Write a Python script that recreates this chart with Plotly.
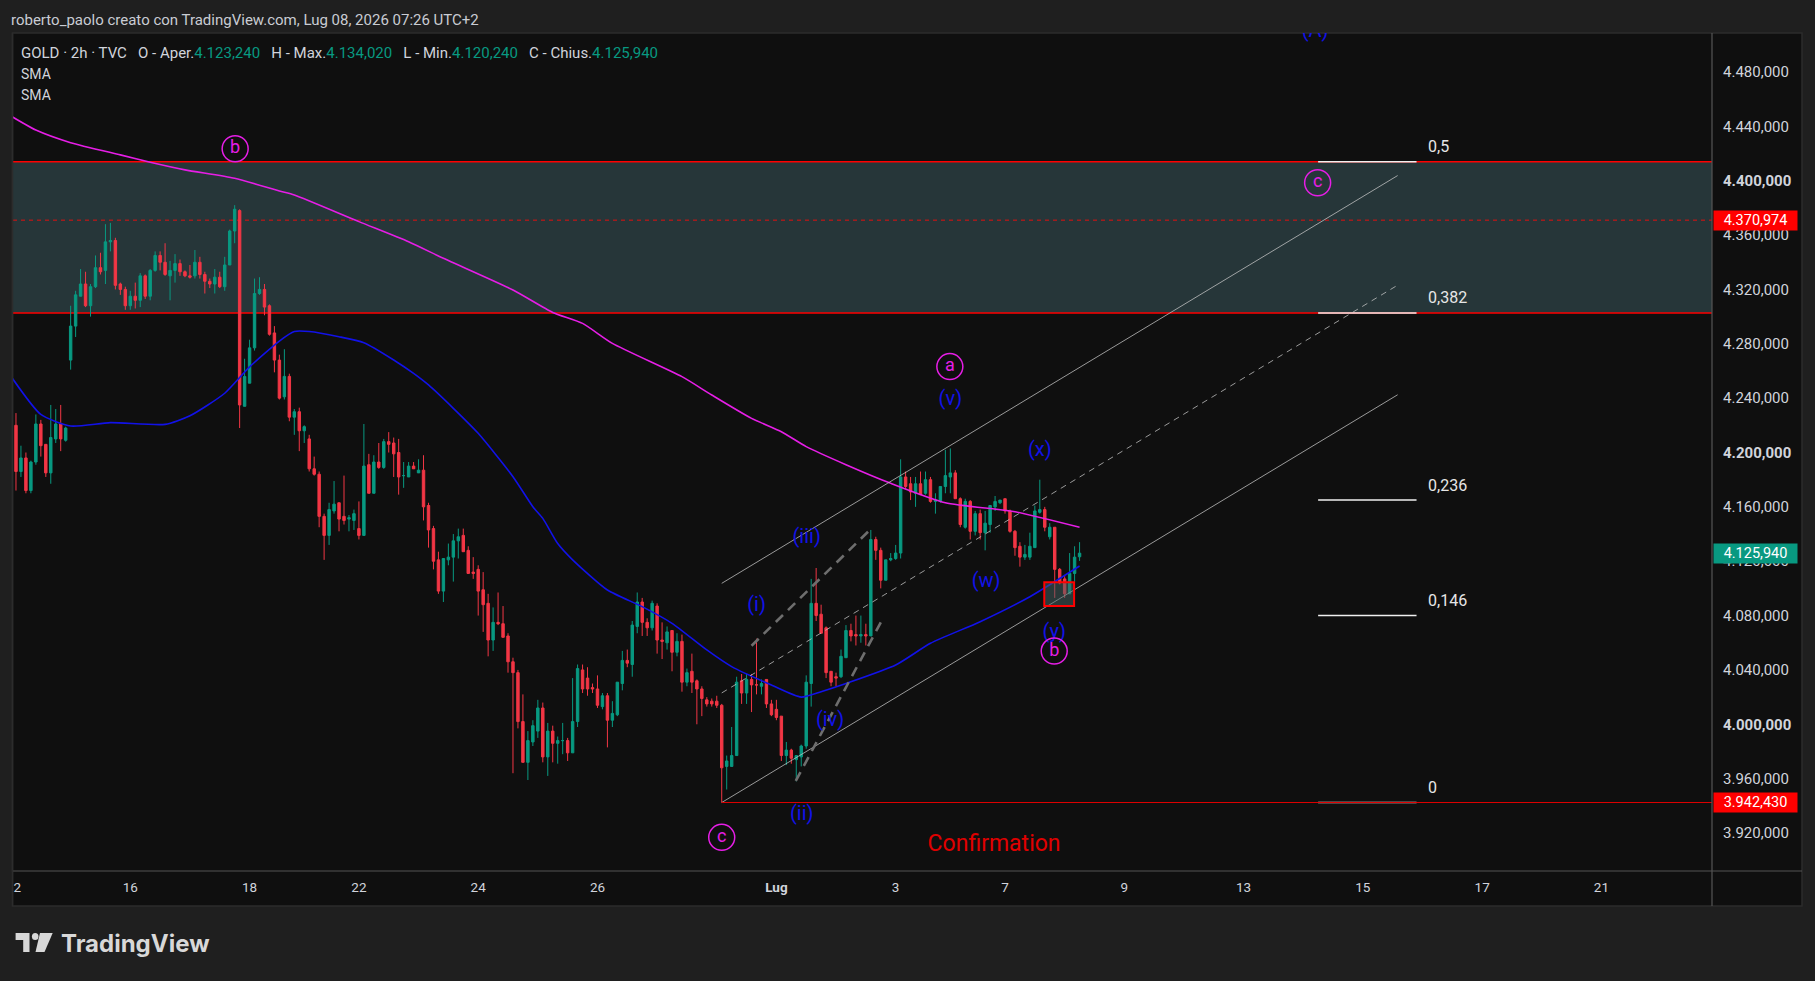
import plotly.graph_objects as go

# ---- 2h candles, GOLD (TVC), bar 0 = first bar on screen ----
opens = [4208, 4220, 4186, 4196, 4172, 4193, 4221, 4206, 4185, 4210, 4221, 4209,
         4268, 4293, 4315, 4324, 4308, 4322, 4336, 4334, 4355, 4356, 4324, 4320,
         4308, 4315, 4312, 4330, 4315, 4334, 4345, 4340, 4330, 4334, 4339, 4333,
         4330, 4330, 4340, 4331, 4326, 4324, 4329, 4322, 4338, 4363, 4378, 4234,
         4251, 4277, 4317, 4320, 4308, 4288, 4268, 4241, 4256, 4226, 4230, 4216,
         4210, 4188, 4184, 4153, 4139, 4157, 4163, 4153, 4151, 4150, 4144, 4139,
         4191, 4170, 4193, 4189, 4208, 4207, 4200, 4183, 4182, 4190, 4185, 4187,
         4161, 4144, 4121, 4098, 4121, 4123, 4135, 4139, 4128, 4112, 4114, 4099,
         4089, 4062, 4075, 4074, 4065, 4046, 4038, 4002, 3972, 3987, 3995, 4012,
         3976, 3995, 3986, 3988, 3988, 3979, 4002, 4040, 4034, 4027, 4026, 4013,
         4021, 4003, 4007, 4030, 4047, 4044, 4072, 4090, 4075, 4071, 4087, 4062,
         4060, 4069, 4053, 4061, 4031, 4039, 4032, 4026, 4018, 4017, 4017, 4014,
         3969, 3969, 3977, 4032, 4023, 4033, 4029, 4028, 4033, 4015, 4011, 4006,
         3977, 3981, 3974, 3976, 3984, 4030, 4089, 4081, 4071, 4039, 4035, 4035,
         4049, 4069, 4066, 4065, 4066, 4065, 4136, 4128, 4106, 4121, 4122, 4126,
         4182, 4177, 4170, 4177, 4170, 4180, 4164, 4164, 4175, 4182, 4185, 4166,
         4145, 4164, 4142, 4155, 4141, 4147, 4160, 4163, 4166, 4157, 4142, 4131,
         4123, 4123, 4130, 4156, 4158, 4138, 4145, 4114, 4107, 4096, 4111, 4123.24]
highs = [4221, 4229, 4205, 4200, 4194, 4228, 4224, 4206, 4235, 4232, 4235, 4219,
         4308, 4319, 4335, 4333, 4324, 4345, 4347, 4368, 4369, 4358, 4325, 4322,
         4319, 4325, 4332, 4331, 4335, 4348, 4348, 4354, 4341, 4346, 4342, 4334,
         4338, 4349, 4344, 4333, 4328, 4335, 4333, 4344, 4364, 4382, 4379, 4269,
         4283, 4328, 4329, 4324, 4309, 4293, 4272, 4276, 4258, 4232, 4233, 4220,
         4213, 4197, 4186, 4155, 4163, 4179, 4163, 4183, 4154, 4158, 4164, 4221,
         4199, 4198, 4207, 4210, 4215, 4211, 4210, 4193, 4193, 4193, 4195, 4198,
         4163, 4146, 4127, 4122, 4133, 4140, 4144, 4144, 4131, 4123, 4117, 4112,
         4096, 4086, 4097, 4087, 4067, 4049, 4040, 4022, 3995, 4003, 4018, 4016,
         4001, 3999, 3991, 4001, 3990, 4034, 4044, 4044, 4042, 4030, 4036, 4023,
         4023, 4017, 4031, 4054, 4055, 4076, 4097, 4093, 4078, 4091, 4089, 4075,
         4072, 4069, 4067, 4066, 4041, 4052, 4033, 4028, 4020, 4019, 4021, 4015,
         3977, 3998, 4035, 4037, 4037, 4037, 4063, 4033, 4033, 4018, 4018, 4006,
         3987, 3982, 3977, 3985, 4036, 4107, 4115, 4088, 4072, 4039, 4038, 4055,
         4073, 4074, 4080, 4080, 4074, 4143, 4138, 4130, 4121, 4126, 4132, 4195,
         4186, 4182, 4182, 4186, 4186, 4182, 4170, 4175, 4202, 4203, 4187, 4167,
         4166, 4165, 4157, 4158, 4157, 4161, 4168, 4165, 4166, 4158, 4143, 4134,
         4132, 4141, 4161, 4180, 4160, 4148, 4145, 4115, 4109, 4126, 4131, 4134.02]
lows = [4204, 4172, 4182, 4170, 4170, 4191, 4197, 4182, 4177, 4207, 4201, 4208,
        4261, 4285, 4315, 4307, 4300, 4321, 4331, 4324, 4348, 4320, 4316, 4305,
        4305, 4306, 4307, 4313, 4312, 4333, 4334, 4330, 4312, 4325, 4330, 4329,
        4328, 4328, 4328, 4317, 4321, 4317, 4321, 4319, 4338, 4354, 4218, 4234,
        4251, 4275, 4316, 4301, 4286, 4259, 4239, 4239, 4223, 4213, 4201, 4207,
        4186, 4183, 4145, 4121, 4132, 4155, 4142, 4147, 4142, 4143, 4136, 4139,
        4170, 4170, 4188, 4188, 4200, 4182, 4169, 4174, 4182, 4188, 4185, 4150,
        4130, 4114, 4096, 4090, 4117, 4105, 4122, 4127, 4111, 4107, 4080, 4068,
        4050, 4054, 4073, 4064, 4038, 3964, 3997, 3972, 3959, 3984, 3990, 3972,
        3962, 3972, 3971, 3978, 3973, 3979, 3998, 4023, 4021, 4023, 4012, 4011,
        3983, 3998, 4006, 4025, 4042, 4035, 4067, 4065, 4065, 4069, 4052, 4048,
        4055, 4039, 4050, 4024, 4028, 4023, 4000, 4006, 4013, 4013, 4012, 3942.43,
        3952, 3969, 3977, 4015, 4015, 4009, 4022, 4022, 4012, 4006, 4003, 3973,
        3970, 3971, 3958, 3969, 3982, 4013, 4076, 4067, 4034, 4028, 4028, 4034,
        4049, 4061, 4058, 4060, 4058, 4065, 4121, 4100, 4106, 4120, 4121, 4122,
        4173, 4165, 4160, 4169, 4169, 4163, 4155, 4163, 4170, 4170, 4166, 4145,
        4144, 4136, 4139, 4136, 4128, 4141, 4157, 4162, 4155, 4141, 4124, 4116,
        4121, 4121, 4130, 4155, 4142, 4136, 4093, 4103, 4093, 4096, 4105, 4120.24]
closes = [4219, 4186, 4196, 4172, 4193, 4221, 4205, 4185, 4211, 4221, 4210, 4218,
          4293, 4316, 4324, 4308, 4322, 4336, 4333, 4355, 4356, 4323, 4320, 4308,
          4315, 4312, 4330, 4315, 4334, 4345, 4340, 4331, 4334, 4339, 4333, 4330,
          4329, 4340, 4331, 4326, 4324, 4329, 4322, 4338, 4363, 4379, 4235, 4256,
          4277, 4317, 4320, 4307, 4287, 4268, 4240, 4256, 4226, 4230, 4216, 4219,
          4188, 4184, 4153, 4139, 4158, 4162, 4151, 4150, 4152, 4155, 4139, 4190,
          4170, 4193, 4189, 4208, 4206, 4199, 4182, 4183, 4190, 4188, 4187, 4160,
          4143, 4120, 4098, 4122, 4123, 4135, 4138, 4127, 4111, 4111, 4098, 4088,
          4062, 4075, 4074, 4064, 4046, 4038, 4002, 3972, 3988, 3999, 4012, 3976,
          3995, 3986, 3988, 3988, 3979, 4002, 4041, 4026, 4026, 4026, 4014, 4021,
          4003, 4008, 4031, 4047, 4045, 4073, 4090, 4075, 4071, 4089, 4062, 4061,
          4068, 4053, 4061, 4031, 4038, 4031, 4026, 4019, 4015, 4015, 4014, 3968,
          3973, 3977, 4031, 4023, 4033, 4029, 4029, 4030, 4015, 4007, 4005, 3977,
          3981, 3975, 3977, 3984, 4031, 4089, 4080, 4067, 4038, 4031, 4034, 4050,
          4069, 4065, 4065, 4066, 4065, 4136, 4128, 4106, 4121, 4122, 4126, 4182,
          4175, 4171, 4177, 4169, 4180, 4164, 4165, 4175, 4183, 4185, 4166, 4147,
          4164, 4142, 4155, 4141, 4148, 4161, 4164, 4165, 4157, 4142, 4130, 4123,
          4125, 4131, 4157, 4158, 4145, 4145, 4114, 4104, 4096, 4111, 4123, 4125.94]

# ---- moving averages (bar index, price) ----
sma_slow_x = [0, 5, 12, 22, 28, 35, 45, 54, 57, 70, 80, 87, 101, 109, 115, 121, 135, 141,
              149, 155, 160, 168, 177, 188, 202, 215]
sma_slow_y = [4447.6, 4437.3, 4428, 4419, 4413.6, 4408, 4401.8, 4392.4, 4389.5, 4369.9,
              4355.1, 4342.9, 4319.6, 4303.1, 4295, 4280.3, 4255.8, 4242.3, 4225.1, 4215.3,
              4204.3, 4191, 4177.3, 4163, 4156.4, 4145]
sma_fast_x = [0, 6, 12, 20, 31, 36, 43, 48, 54, 57, 60, 66, 71, 77, 81, 84, 89, 94, 101, 105,
              107, 110, 113, 120, 127, 133, 140, 145, 153, 159, 163, 168, 178, 185, 195, 205, 215]
sma_fast_y = [4256, 4228, 4219.5, 4222, 4220.7, 4227, 4243.6, 4263, 4282, 4289, 4289, 4285.2,
              4280.8, 4268.1, 4258.2, 4249.7, 4232.5, 4214.1, 4182.2, 4160.1, 4151.5, 4133,
              4121, 4098.8, 4086.6, 4074.3, 4054.7, 4042.4, 4028.9, 4020, 4024, 4030, 4043.6,
              4059.6, 4075.5, 4093.9, 4116.5]

# ---- axes ----
date_pos = [0.5, 24, 48, 70, 94, 118, 154, 178, 200, 224, 248, 272, 296, 320]
date_text = ["12", "16", "18", "22", "24", "26", "<b>Lug</b>", "3", "7", "9", "13", "15", "17", "21"]
price_ticks = [4480, 4440, 4400, 4360, 4320, 4280, 4240, 4200, 4160, 4120, 4080, 4040, 4000,
               3960, 3920]

# ---- drawings ----
zone_top, zone_bottom = 4414.0, 4302.7
red_hline = 4370.974
swing_low, swing_low_bar = 3942.43, 143
fib_low, fib_high = 3942.43, 4885.57
fib_levels = [0.5, 0.382, 0.236, 0.146, 0]
fib_span = [263, 282.8]
channel_x = [143, 279]
channel_low = [3942.43, 4242.5]
channel_width = 161.3
dash_a_x, dash_a_y = [149, 172.8], [4057.8, 4143.0]
dash_b_x, dash_b_y = [157.9, 175.5], [3958.3, 4078.4]
box_x, box_y = [207.9, 213.9], [4087.0, 4104.5]

wave_text = ["(i)", "(ii)", "(iii)", "(iv)", "(v)", "(w)", "(x)", "(y)", "(A)"]
wave_x = [150, 159.1, 160.1, 164.8, 189, 196.2, 207, 209.9, 262.4]
wave_y = [4087, 3933, 4136.9, 4002.4, 4238.6, 4104.4, 4201.3, 4067.4, 4509.5]
circle_text = ["b", "c", "a", "c", "b"]
circle_x = [45.1, 143, 188.9, 262.9, 209.9]
circle_y = [4423.5, 3916.8, 4263.2, 4398.5, 4053.9]

GREEN, RED = "#089981", "#f23645"
MAGENTA, BLUE = "#e61ee6", "#1212e8"
TXT = "#d1d4dc"
FONT = "Roboto"
W, H = 1815, 981
PL, PR, PT, PB = 13, 1712, 33, 871   # plot area in pixels
XR = [0.4, 342.25]
YR = [3892.04, 4508.7]
GAP = "\u00a0\u00a0\u00a0"


def px(x):
    return (x - PL) / (PR - PL)


def py(y):
    return (PB - y) / (PB - PT)


def it_num(v):
    s = f"{v:,.3f}"
    return s.replace(",", "X").replace(".", ",").replace("X", ".")


fig = go.Figure()

fig.add_trace(go.Scatter(x=sma_slow_x, y=sma_slow_y, mode="lines", hoverinfo="skip",
                         line=dict(color=MAGENTA, width=1.6, shape="spline", smoothing=0.6)))
fig.add_trace(go.Scatter(x=sma_fast_x, y=sma_fast_y, mode="lines", hoverinfo="skip",
                         line=dict(color=BLUE, width=1.6, shape="spline", smoothing=0.6)))

fig.add_trace(go.Candlestick(
    x=list(range(len(closes))), open=opens, high=highs, low=lows, close=closes,
    increasing=dict(line=dict(color=GREEN, width=1), fillcolor=GREEN),
    decreasing=dict(line=dict(color=RED, width=1), fillcolor=RED),
    hoverinfo="skip"))

annotations = []

# channel
for off, dash in [(0, "solid"), (channel_width, "solid"), (channel_width / 2, "6px,5px")]:
    fig.add_trace(go.Scatter(x=channel_x, y=[channel_low[0] + off, channel_low[1] + off],
                             mode="lines", hoverinfo="skip",
                             line=dict(color="rgba(200,200,200,0.75)", width=1, dash=dash)))
for xs, ys in [(dash_a_x, dash_a_y), (dash_b_x, dash_b_y)]:
    fig.add_trace(go.Scatter(x=xs, y=ys, mode="lines", hoverinfo="skip",
                             line=dict(color="#6e6e6e", width=2.6, dash="10px,7px")))

# fib levels
for lv in fib_levels:
    yv = fib_low + lv * (fib_high - fib_low)
    fig.add_trace(go.Scatter(x=fib_span, y=[yv, yv], mode="lines", hoverinfo="skip",
                             line=dict(color="#f0f0f0", width=1.5)))
    annotations.append(dict(x=fib_span[1] + 2.0, y=yv, text=str(lv).replace(".", ","),
                            showarrow=False, xanchor="left", yanchor="middle", yshift=15,
                            font=dict(family=FONT, size=16, color="#e6e6e6")))

# wave labels
fig.add_trace(go.Scatter(x=wave_x, y=wave_y, mode="text", text=wave_text, hoverinfo="skip",
                         textposition="middle center", cliponaxis=True,
                         textfont=dict(family=FONT, size=20, color=BLUE)))
fig.add_trace(go.Scatter(x=circle_x, y=circle_y, mode="markers+text", text=circle_text,
                         hoverinfo="skip", textposition="middle center",
                         marker=dict(symbol="circle-open", size=26, color=MAGENTA,
                                     line=dict(width=1.5)),
                         textfont=dict(family=FONT, size=18, color=MAGENTA)))
fig.add_trace(go.Scatter(x=[197.8], y=[3911.2], mode="text", text=["Confirmation"],
                         hoverinfo="skip", textfont=dict(family=FONT, size=23, color="#e00000")))

shapes = [
    # chart panel incl. axis strips
    dict(type="rect", xref="paper", yref="paper", x0=px(12.5), x1=px(1802), y0=py(906), y1=py(33),
         fillcolor="#0f0f0f", line=dict(color="#2c2c2c", width=1.5), layer="below"),
    dict(type="rect", xref="paper", yref="y", x0=0, x1=1, y0=zone_bottom, y1=zone_top,
         fillcolor="#263639", line=dict(width=0), layer="below"),
    dict(type="line", xref="paper", yref="y", x0=0, x1=1, y0=zone_top, y1=zone_top,
         line=dict(color="#ff0000", width=1.5), layer="below"),
    dict(type="line", xref="paper", yref="y", x0=0, x1=1, y0=zone_bottom, y1=zone_bottom,
         line=dict(color="#ff0000", width=1.5), layer="below"),
    dict(type="line", xref="paper", yref="y", x0=0, x1=1, y0=red_hline, y1=red_hline,
         line=dict(color="#e01010", width=1, dash="4px,4px"), layer="below"),
    dict(type="line", xref="x", yref="y", x0=swing_low_bar, x1=XR[1], y0=swing_low, y1=swing_low,
         line=dict(color="#e00000", width=1)),
    dict(type="rect", xref="x", yref="y", x0=box_x[0], x1=box_x[1], y0=box_y[0], y1=box_y[1],
         fillcolor="rgba(70,100,100,0.5)", line=dict(color="#ff0000", width=2), layer="above"),
    # axis separators
    dict(type="line", xref="paper", yref="paper", x0=px(12.5), x1=px(1802), y0=0, y1=0,
         line=dict(color="#555555", width=1.2), layer="above"),
    dict(type="line", xref="paper", yref="paper", x0=1, x1=1, y0=py(906), y1=1,
         line=dict(color="#555555", width=1.2), layer="above"),
    # hide the part of the first date label outside the panel
    dict(type="rect", xref="paper", yref="paper", x0=px(0), x1=px(12), y0=py(906), y1=py(872),
         fillcolor="#1f1f1f", line=dict(width=0), layer="above"),
    dict(type="line", xref="paper", yref="paper", x0=px(12.5), x1=px(12.5), y0=py(906), y1=py(33),
         line=dict(color="#2c2c2c", width=1.5), layer="above"),
    # TradingView logo
    dict(type="path", xref="paper", yref="paper", fillcolor="#d8d8d8", line=dict(width=0),
         path=f"M{px(15.6)},{py(933)} L{px(29.5)},{py(933)} L{px(29.5)},{py(952)} "
              f"L{px(23.2)},{py(952)} L{px(23.2)},{py(940)} L{px(15.6)},{py(940)} Z"),
    dict(type="circle", xref="paper", yref="paper", fillcolor="#d8d8d8", line=dict(width=0),
         x0=px(31.9), x1=px(38.5), y0=py(940), y1=py(933)),
    dict(type="path", xref="paper", yref="paper", fillcolor="#d8d8d8", line=dict(width=0),
         path=f"M{px(40)},{py(933)} L{px(52.7)},{py(933)} L{px(44.5)},{py(952)} "
              f"L{px(35.5)},{py(952)} Z"),
]

annotations += [
    dict(xref="paper", yref="paper", x=px(9), y=py(20), xanchor="left", yanchor="middle",
         showarrow=False, font=dict(family=FONT, size=15, color="#c9ccd3"),
         text="roberto_paolo creato con TradingView.com, Lug 08, 2026 07:26 UTC+2"),
    dict(xref="paper", yref="paper", x=px(59), y=py(943), xanchor="left", yanchor="middle",
         showarrow=False, font=dict(family="Inter", size=24, color="#d8d8d8"),
         text="<b>TradingView</b>"),
    dict(xref="paper", yref="paper", x=px(19), y=py(53), xanchor="left", yanchor="middle",
         showarrow=False, font=dict(family=FONT, size=15, color=TXT),
         text=f"GOLD · 2h · TVC{GAP}O - Aper."
              f"<span style='color:{GREEN}'>{it_num(opens[-1])}</span>{GAP}H - Max."
              f"<span style='color:{GREEN}'>{it_num(highs[-1])}</span>{GAP}L - Min."
              f"<span style='color:{GREEN}'>{it_num(lows[-1])}</span>{GAP}C - Chius."
              f"<span style='color:{GREEN}'>{it_num(closes[-1])}</span>"),
    dict(xref="paper", yref="paper", x=px(19), y=py(74), xanchor="left", yanchor="middle",
         showarrow=False, font=dict(family=FONT, size=14, color=TXT), text="SMA"),
    dict(xref="paper", yref="paper", x=px(19), y=py(95), xanchor="left", yanchor="middle",
         showarrow=False, font=dict(family=FONT, size=14, color=TXT), text="SMA"),
]
for val, bg in [(red_hline, "#ff0000"), (closes[-1], GREEN), (swing_low, "#ff0000")]:
    annotations.append(dict(xref="paper", yref="y", x=px(1713), y=val, xanchor="left",
                            yanchor="middle", showarrow=False, text=it_num(val), width=83,
                            height=19, bgcolor=bg, borderpad=0,
                            font=dict(family=FONT, size=14.5, color="#ffffff")))

tick_text = [f"<b>{it_num(v)}</b>" if v % 200 == 0 else it_num(v) for v in price_ticks]

fig.update_layout(
    width=W, height=H,
    margin=dict(l=PL, r=W - PR, t=PT, b=H - PB, autoexpand=False),
    paper_bgcolor="#1f1f1f", plot_bgcolor="#0f0f0f",
    showlegend=False, hovermode=False,
    shapes=shapes, annotations=annotations,
    xaxis=dict(range=XR, showgrid=False, zeroline=False, rangeslider=dict(visible=False),
               tickmode="array", tickvals=date_pos, ticktext=date_text, ticks="",
               ticklabelstandoff=6, tickfont=dict(family=FONT, size=13.5, color=TXT),
               automargin=False, fixedrange=True),
    yaxis=dict(range=YR, side="right", showgrid=False, zeroline=False,
               tickmode="array", tickvals=price_ticks, ticktext=tick_text, ticks="",
               ticklabelstandoff=10, tickfont=dict(family=FONT, size=15, color=TXT),
               automargin=False, fixedrange=True),
)

fig.write_html("out.html", config={"displayModeBar": False},
               post_script="document.body.style.margin='0';"
                           "document.body.style.background='#1f1f1f';")
